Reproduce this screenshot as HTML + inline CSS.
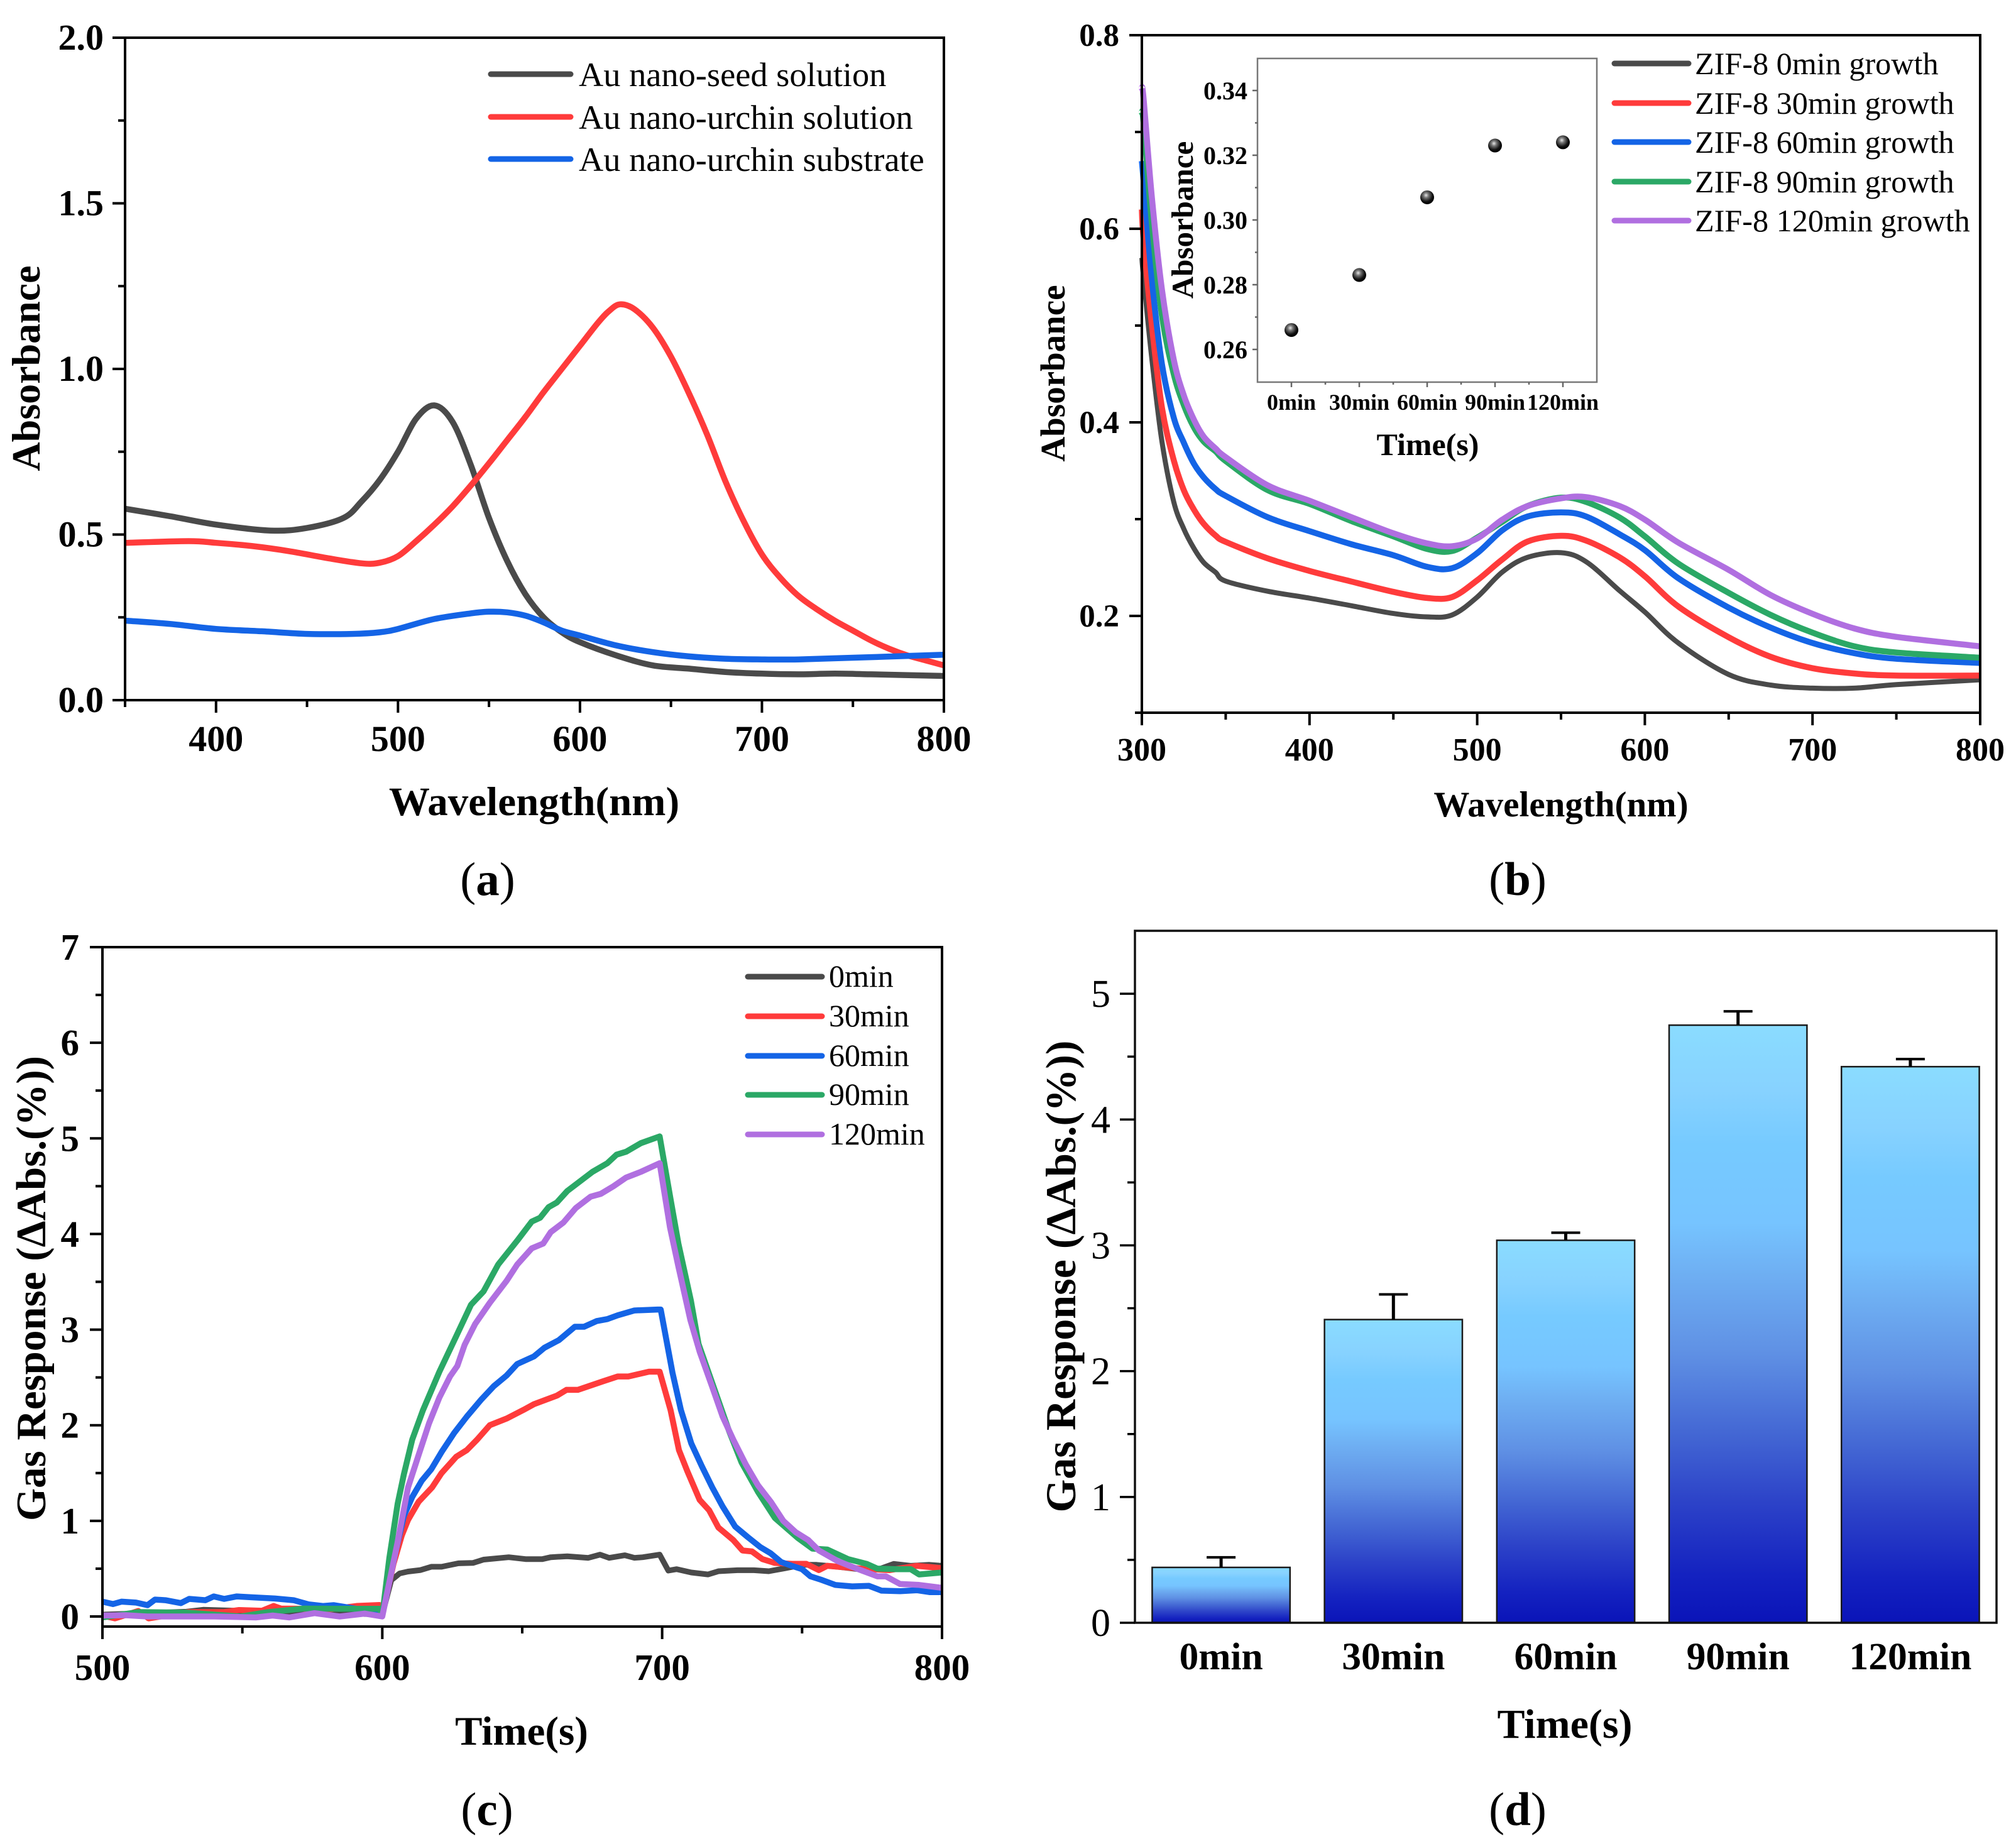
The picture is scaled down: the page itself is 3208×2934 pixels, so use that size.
<!DOCTYPE html>
<html lang="en">
<head>
<meta charset="utf-8">
<title>Absorbance and gas response figure</title>
<style>
html,body{margin:0;padding:0;background:#fff;width:3208px;height:2934px;overflow:hidden}
svg{display:block}
text{font-family:"Liberation Serif","DejaVu Serif",serif;fill:#000}
.b{font-weight:bold}
</style>
</head>
<body>
<svg id="figure" xmlns="http://www.w3.org/2000/svg" width="3208" height="2934" viewBox="0 0 3208 2934">
<defs>
<linearGradient id="barFill" x1="0" y1="0" x2="0" y2="1">
<stop offset="0" stop-color="#8adcff"/><stop offset="0.11" stop-color="#87d2ff"/><stop offset="0.2" stop-color="#76caff"/>
<stop offset="0.33" stop-color="#76c4ff"/><stop offset="0.42" stop-color="#6eaef2"/><stop offset="0.55" stop-color="#5f90e4"/>
<stop offset="0.68" stop-color="#4468d4"/><stop offset="0.8" stop-color="#2c42c8"/><stop offset="0.92" stop-color="#1422c0"/><stop offset="1" stop-color="#0a14b8"/>
</linearGradient>
<radialGradient id="ball" cx="0.42" cy="0.35" r="0.62">
<stop offset="0" stop-color="#e8e8e8"/><stop offset="0.3" stop-color="#777"/><stop offset="0.75" stop-color="#111"/><stop offset="1" stop-color="#000"/>
</radialGradient>
</defs>
<rect width="3208" height="2934" fill="#fff"/>

<g id="panelA">
<text class="b" font-size="64" text-anchor="middle" transform="translate(63,586) rotate(-90)">Absorbance</text>
<text class="b" font-size="65" text-anchor="middle" x="850" y="1297">Wavelength(nm)</text>
<text font-size="75" text-anchor="middle" x="776" y="1424">(<tspan class="b">a</tspan>)</text>
<g>
<line x1="781" x2="908" y1="118" y2="118" stroke="#4a4a4a" stroke-width="9" stroke-linecap="round"/>
<text font-size="54.4" x="921" y="137">Au nano-seed solution</text>
<line x1="781" x2="908" y1="186" y2="186" stroke="#ff3b3b" stroke-width="9" stroke-linecap="round"/>
<text font-size="54.4" x="921" y="205">Au nano-urchin solution</text>
<line x1="781" x2="908" y1="253" y2="253" stroke="#1464e6" stroke-width="9" stroke-linecap="round"/>
<text font-size="54.4" x="921" y="272">Au nano-urchin substrate</text>
</g>
</g>

<g id="panelB">
<text class="b" font-size="55" text-anchor="middle" transform="translate(1694,594) rotate(-90)">Absorbance</text>
<text class="b" font-size="57" text-anchor="middle" x="2484" y="1299">Wavelength(nm)</text>
<text font-size="75" text-anchor="middle" x="2415" y="1424">(<tspan class="b">b</tspan>)</text>
<g>
<line x1="2569" x2="2687" y1="101" y2="101" stroke="#4a4a4a" stroke-width="9" stroke-linecap="round"/>
<text font-size="50.2" x="2697" y="118">ZIF-8 0min growth</text>
<line x1="2569" x2="2687" y1="164" y2="164" stroke="#ff3b3b" stroke-width="9" stroke-linecap="round"/>
<text font-size="50.2" x="2697" y="181">ZIF-8 30min growth</text>
<line x1="2569" x2="2687" y1="226" y2="226" stroke="#1464e6" stroke-width="9" stroke-linecap="round"/>
<text font-size="50.2" x="2697" y="243">ZIF-8 60min growth</text>
<line x1="2569" x2="2687" y1="289" y2="289" stroke="#2ba866" stroke-width="9" stroke-linecap="round"/>
<text font-size="50.2" x="2697" y="306">ZIF-8 90min growth</text>
<line x1="2569" x2="2687" y1="351" y2="351" stroke="#b06fe0" stroke-width="9" stroke-linecap="round"/>
<text font-size="50.2" x="2697" y="368">ZIF-8 120min growth</text>
</g>
</g>

<g id="panelInset">
<text class="b" font-size="49" text-anchor="middle" transform="translate(1898,350) rotate(-90)">Absorbance</text>
<text class="b" font-size="50" text-anchor="middle" x="2272" y="724">Time(s)</text>
</g>

<g id="panelC">
<text class="b" font-size="67" text-anchor="middle" transform="translate(72,2050) rotate(-90)">Gas Response (ΔAbs.(%))</text>
<text class="b" font-size="65" text-anchor="middle" x="830" y="2776">Time(s)</text>
<text font-size="75" text-anchor="middle" x="775" y="2904">(<tspan class="b">c</tspan>)</text>
<g>
<line x1="1190" x2="1308" y1="1554" y2="1554" stroke="#4a4a4a" stroke-width="9" stroke-linecap="round"/>
<text font-size="50" x="1319" y="1570">0min</text>
<line x1="1190" x2="1308" y1="1617" y2="1617" stroke="#ff3b3b" stroke-width="9" stroke-linecap="round"/>
<text font-size="50" x="1319" y="1633">30min</text>
<line x1="1190" x2="1308" y1="1680" y2="1680" stroke="#1464e6" stroke-width="9" stroke-linecap="round"/>
<text font-size="50" x="1319" y="1696">60min</text>
<line x1="1190" x2="1308" y1="1742" y2="1742" stroke="#2ba866" stroke-width="9" stroke-linecap="round"/>
<text font-size="50" x="1319" y="1758">90min</text>
<line x1="1190" x2="1308" y1="1805" y2="1805" stroke="#b06fe0" stroke-width="9" stroke-linecap="round"/>
<text font-size="50" x="1319" y="1821">120min</text>
</g>
</g>

<g id="panelD">
<text class="b" font-size="68" text-anchor="middle" transform="translate(1711,2031) rotate(-90)">Gas Response (ΔAbs.(%))</text>
<text class="b" font-size="66" text-anchor="middle" x="2490" y="2765">Time(s)</text>
<text font-size="75" text-anchor="middle" x="2415" y="2904">(<tspan class="b">d</tspan>)</text>
</g>
</svg>

<script>
// ---------- Panel (a) data ----------
const aSeedX = [350,375,400,430,450,470,480,490,500,510,520,530,540,550,560,570,580,590,600,620,640,660,680,700,720,740,760,800];
const aSeedY = [.578,.555,.53,.512,.52,.55,.6,.665,.75,.85,.89,.84,.71,.55,.42,.32,.25,.205,.175,.135,.105,.095,.085,.08,.078,.08,.078,.073];
const aSolX = [350,385,400,420,440,460,480,490,500,510,520,530,540,550,560,570,580,590,600,610,616,622,630,640,650,660,670,680,690,700,710,720,730,740,750,760,770,780,790,800];
const aSolY = [.475,.48,.475,.465,.45,.43,.413,.415,.435,.48,.53,.585,.648,.715,.785,.855,.93,1.0,1.07,1.14,1.175,1.195,1.18,1.125,1.037,.925,.8,.66,.54,.44,.37,.315,.275,.24,.21,.18,.155,.135,.12,.105];
const aSubX = [350,375,400,425,450,475,490,500,520,540,550,560,570,580,590,600,620,640,660,680,700,720,750,800];
const aSubY = [.24,.23,.215,.208,.2,.2,.205,.215,.245,.262,.267,.265,.255,.235,.21,.195,.165,.145,.132,.125,.123,.123,.128,.137];
const aXTicks = [400,500,600,700,800];
const aXMinor = [350,450,550,650,750];
const aYTicks = ["0.0","0.5","1.0","1.5","2.0"];
const aYMinor = [.25,.75,1.25,1.75];

// ---------- Panel (b) data ----------
const bX = [300,301,306,312,319,325,331,337,344,350,375,400,425,450,470,485,500,515,530,550,565,585,600,620,650,675,700,725,750,800];
const bGray = [.57,.55,.465,.38,.318,.29,.27,.255,.245,.236,.2255,.2184,.2105,.2025,.199,.201,.2195,.2454,.2605,.2653,.256,.226,.204,.172,.1395,.1286,.1254,.1254,.129,.134];
const bRed = [.62,.59,.5,.415,.361,.33,.31,.295,.283,.2765,.2595,.2465,.2355,.2249,.2186,.2195,.2368,.2584,.2768,.2828,.2778,.2605,.241,.2097,.178,.1578,.146,.1405,.1384,.1384];
const bBlue = [.67,.65,.547,.46,.405,.379,.3575,.343,.331,.324,.302,.2876,.274,.2627,.2508,.2493,.2649,.2886,.3027,.307,.3027,.2843,.268,.2389,.2086,.188,.172,.1615,.1557,.1514];
const bGreen = [.72,.71,.605,.51,.45,.418,.395,.38,.37,.36,.33,.3157,.298,.2822,.2692,.267,.281,.2973,.3135,.3222,.3178,.3016,.2822,.254,.2238,.2011,.1827,.1686,.1622,.1568];
const bPurple = [.745,.735,.632,.537,.465,.428,.403,.385,.373,.364,.335,.319,.302,.2854,.275,.272,.28,.2995,.3135,.3215,.3228,.3135,.2995,.2757,.2476,.2216,.2022,.187,.1784,.1686];
const bXTicks = [300,400,500,600,700,800];
const bXMinor = [350,450,550,650,750];
const bYTicks = ["0.2","0.4","0.6","0.8"];
const bYMinor = [.1,.3,.5,.7];

// ---------- Inset data ----------
const insetCategories = ["0min","30min","60min","90min","120min"];
const insetValues = [.266,.283,.307,.323,.324];
const insetYTicks = ["0.26","0.28","0.30","0.32","0.34"];
const insetYMinor = [.27,.29,.31,.33];

// ---------- Panel (c) data ----------
const cGrayT = [500,530,536,560,580,600,603.2,606.2,609.2,613.7,617.5,621.2,627.2,632.4,636.2,645.2,651.2,657.2,660.2,666.1,673.6,677.8,681.1,686.7,690.1,693.1,699.1,702.2,705.2,710.4,716.4,720.1,726.9,732.8,738.1,744,750,755.2,762.7,770,777.5,782.8,788.8,795.5,800];
const cGrayV = [.02,.05,.07,.05,.04,.02,.38,.45,.47,.486,.52,.52,.556,.56,.595,.62,.6,.6,.62,.63,.613,.647,.613,.64,.613,.62,.647,.48,.495,.46,.44,.473,.484,.484,.473,.505,.54,.54,.52,.495,.495,.55,.53,.54,.53];
const cRedT = [500,504.5,512.8,516.5,530.8,543.5,548.8,557,561.2,563.8,572,576.6,590.8,599,600,604,607,609.2,613,617.8,621.2,626.4,630.2,633.9,638.4,644.4,650.4,654.2,662.4,665.8,669.9,678.9,684.1,687.9,695.3,699.1,703,706,709,713.4,716.8,720.1,725.4,728.7,732.1,735.8,740.3,746.3,751.5,756,759,764.9,773.9,781.3,791,800];
const cRedV = [.01,-.02,.057,-.02,.046,.046,.068,.06,.11,.083,.08,.057,.11,.12,.02,.55,.85,1.01,1.2,1.35,1.5,1.67,1.74,1.85,2,2.07,2.16,2.22,2.31,2.37,2.37,2.46,2.51,2.51,2.56,2.56,2.16,1.74,1.52,1.22,1.11,.93,.8,.69,.68,.6,.56,.55,.55,.485,.53,.515,.495,.485,.53,.505];
const cBlueT = [500,503.8,506.8,512,516.1,518.8,522.5,528,531,536.8,539.8,543.5,548,554,561.6,568.3,573.6,578.8,582.6,590.8,600,604,607.7,610.7,614.1,617.5,621.2,625.7,630.2,635.4,639.9,644.4,648.2,654.2,657.9,663.1,668.8,672.1,676.6,680.4,684.1,690.1,698.4,699.5,703.7,706.7,710.4,714.2,717.9,721.6,726.1,730.6,735.1,738.8,742.5,746.3,750,753,756.7,761.9,767.9,773.9,778.4,785,791,795.5,800];
const cBlueV = [.155,.13,.155,.145,.118,.177,.17,.14,.184,.17,.21,.184,.21,.2,.188,.17,.127,.11,.118,.08,.01,.58,1.05,1.25,1.42,1.54,1.72,1.92,2.09,2.27,2.41,2.52,2.64,2.72,2.81,2.89,3.03,3.03,3.09,3.11,3.15,3.2,3.21,3.21,2.55,2.16,1.81,1.57,1.35,1.15,.94,.83,.725,.66,.57,.53,.495,.42,.385,.33,.315,.32,.27,.265,.275,.255,.255];
const cGreenT = [500,512.8,530,549.5,559.3,572,585.6,599,600,602.5,605.5,607.7,610.7,614.5,620.4,626.4,631.7,636.2,641.4,648.2,653.4,656.4,659.4,662.4,666.1,675.1,680.4,683.7,687.1,692.4,699.1,702.8,705.8,710.3,713,723.9,728.4,734.3,740.3,748.5,753.7,759,766.4,773.1,776.9,783.6,788.8,791.8,800];
const cGreenV = [-.01,.046,.04,0,.046,.083,.08,.08,.01,.61,1.18,1.485,1.85,2.155,2.56,2.93,3.26,3.4,3.68,3.93,4.13,4.17,4.28,4.33,4.45,4.65,4.74,4.83,4.86,4.95,5.02,4.4,3.9,3.3,2.85,1.94,1.61,1.3,1.03,.82,.71,.7,.6,.55,.5,.495,.495,.44,.46];
const cPurpleT = [500,508.3,516,530.8,540,554.8,560.8,566.8,575.8,584.8,593.8,600,605.5,609.2,613,616.7,620.4,624.2,626.8,629.4,633.2,638.4,644.4,648.2,653.4,657.5,660.2,664.7,669.1,674.4,678.1,682.6,687.1,692.4,699.1,702.8,705.8,710.1,713.4,717.9,721.6,725.4,729.9,734.3,738.8,743.3,747.8,752.2,756,762.7,770,776.9,779.9,785,791.8,800];
const cPurpleV = [.01,.013,.0,0,0,-.01,.01,-.01,.035,0,.03,0,.78,1.35,1.69,2.02,2.29,2.51,2.62,2.84,3.06,3.28,3.51,3.68,3.85,3.9,4.02,4.12,4.27,4.39,4.42,4.5,4.59,4.65,4.74,4.07,3.66,3.1,2.77,2.4,2.09,1.85,1.59,1.37,1.2,1,.88,.8,.69,.58,.495,.42,.42,.34,.33,.3];
const cXTicks = [500,600,700,800];
const cXMinor = [550,650,750];
const cYTicks = ["0","1","2","3","4","5","6","7"];
const cYMinor = [.5,1.5,2.5,3.5,4.5,5.5,6.5];

// ---------- Panel (d) data ----------
const dCategories = ["0min","30min","60min","90min","120min"];
const dValues = [.44,2.41,3.04,4.75,4.42];
const dErrorTops = [.52,2.61,3.10,4.86,4.48];
const dYTicks = ["0","1","2","3","4","5"];
const dYMinor = [.5,1.5,2.5,3.5,4.5];

// ---------- helpers ----------
const NS = 'http://www.w3.org/2000/svg';
function mk(tag, attrs, parent){
  const el = document.createElementNS(NS, tag);
  for (const k in attrs) el.setAttribute(k, attrs[k]);
  parent.appendChild(el);
  return el;
}
function linear(d0, d1, r0, r1){ return v => r0 + (v - d0) / (d1 - d0) * (r1 - r0); }
function smoothPath(px){
  let d = 'M' + px[0][0].toFixed(1) + ' ' + px[0][1].toFixed(1);
  for (let i = 0; i < px.length - 1; i++){
    const p0 = px[Math.max(i-1,0)], p1 = px[i], p2 = px[i+1], p3 = px[Math.min(i+2,px.length-1)];
    const c1x = p1[0] + (p2[0]-p0[0]) / 6, c1y = p1[1] + (p2[1]-p0[1]) / 6;
    const c2x = p2[0] - (p3[0]-p1[0]) / 6, c2y = p2[1] - (p3[1]-p1[1]) / 6;
    d += 'C' + c1x.toFixed(1) + ' ' + c1y.toFixed(1) + ' ' + c2x.toFixed(1) + ' ' + c2y.toFixed(1) + ' ' + p2[0].toFixed(1) + ' ' + p2[1].toFixed(1);
  }
  return d;
}
function polyPath(px){
  return px.map((p,i) => (i ? 'L' : 'M') + p[0].toFixed(1) + ' ' + p[1].toFixed(1)).join('');
}
function drawCurve(parent, name, xs, ys, sx, sy, color, width, smooth){
  const px = xs.map((x,i) => [sx(x), sy(ys[i])]);
  const path = mk('path', {d: smooth ? smoothPath(px) : polyPath(px), fill:'none', stroke:color, 'stroke-width':width, 'stroke-linejoin':'round', 'stroke-linecap':'butt'}, parent);
  
  
}
function drawFrame(parent, name, x0, x1, y0, y1, color, width){
  const r = mk('rect', {x:x0, y:y1, width:x1-x0, height:y0-y1, fill:'none', stroke:color, 'stroke-width':width}, parent);
  
  
}
function xTick(parent, x, y, len, color, width){
  const l = mk('line', {x1:x, x2:x, y1:y, y2:y+len, stroke:color, 'stroke-width':width}, parent);
  
  
}
function yTick(parent, x, y, len, color, width){
  const l = mk('line', {x1:x-len, x2:x, y1:y, y2:y, stroke:color, 'stroke-width':width}, parent);
  
  
}
function label(parent, name, str, x, y, size, anchor, bold){
  const t = mk('text', {x:x, y:y, 'font-size':size, 'text-anchor':anchor}, parent);
  if (bold) t.setAttribute('class', 'b');
  t.textContent = str;
  
  
}

// ---------- Panel (a) ----------
(function(){
  const g = document.getElementById('panelA');
  const sx = linear(350, 800, 199, 1502), sy = linear(0, 2, 1114, 60);
  drawCurve(g, 'curve-au-nano-seed', aSeedX, aSeedY, sx, sy, '#4a4a4a', 9.5, true);
  drawCurve(g, 'curve-au-nano-urchin-solution', aSolX, aSolY, sx, sy, '#ff3b3b', 9.5, true);
  drawCurve(g, 'curve-au-nano-urchin-substrate', aSubX, aSubY, sx, sy, '#1464e6', 9.5, true);
  drawFrame(g, 'panel-a-frame', 199, 1502, 1114, 60, '#000', 4);
  aXTicks.forEach(v => { xTick(g, sx(v), 1114, 20, '#000', 4); label(g, 'x-tick-label', String(v), sx(v), 1195, 58, 'middle', true); });
  aXMinor.forEach(v => xTick(g, sx(v), 1114, 11, '#000', 4));
  aYTicks.forEach(s => { yTick(g, 199, sy(+s), 20, '#000', 4); label(g, 'y-tick-label', s, 165, sy(+s)+19, 58, 'end', true); });
  aYMinor.forEach(v => yTick(g, 199, sy(v), 11, '#000', 4));
})();

// ---------- Panel (b) ----------
(function(){
  const g = document.getElementById('panelB');
  const sx = linear(300, 800, 1817, 3151), sy = linear(.2, .8, 980, 56);
  drawCurve(g, 'curve-zif-0min', bX, bGray, sx, sy, '#4a4a4a', 8, true);
  drawCurve(g, 'curve-zif-30min', bX, bRed, sx, sy, '#ff3b3b', 9.5, true);
  drawCurve(g, 'curve-zif-60min', bX, bBlue, sx, sy, '#1464e6', 9.5, true);
  drawCurve(g, 'curve-zif-90min', bX, bGreen, sx, sy, '#2ba866', 9.5, true);
  drawCurve(g, 'curve-zif-120min', bX, bPurple, sx, sy, '#b06fe0', 9.5, true);
  drawFrame(g, 'panel-b-frame', 1817, 3151, sy(.1), 56, '#000', 4);
  bXTicks.forEach(v => { xTick(g, sx(v), sy(.1), 20, '#000', 4); label(g, 'x-tick-label', String(v), sx(v), 1210, 52, 'middle', true); });
  bXMinor.forEach(v => xTick(g, sx(v), sy(.1), 11, '#000', 4));
  bYTicks.forEach(s => { yTick(g, 1817, sy(+s), 20, '#000', 4); label(g, 'y-tick-label', s, 1781, sy(+s)+17, 51, 'end', true); });
  bYMinor.forEach(v => yTick(g, 1817, sy(v), 11, '#000', 4));
})();

// ---------- Inset ----------
(function(){
  const g = document.getElementById('panelInset');
  const sx = linear(0, 4, 2055, 2487), sy = linear(.26, .34, 556, 144);
  drawFrame(g, 'inset-frame', 2001, 2541, 608, 93, '#777', 2.5);
  insetCategories.forEach((c,i) => {
    xTick(g, sx(i), 608, 8, '#666', 2.5);
    label(g, 'inset-x-tick-label', c, sx(i), 652, 36, 'middle', true);
    if (i < insetCategories.length - 1) xTick(g, sx(i+.5), 608, 4, '#666', 2.5);
  });
  insetYTicks.forEach(s => { yTick(g, 2001, sy(+s), 8, '#666', 2.5); label(g, 'inset-y-tick-label', s, 1985, sy(+s)+14, 40, 'end', true); });
  insetYMinor.forEach(v => yTick(g, 2001, sy(v), 4, '#666', 2.5));
  insetValues.forEach((v,i) => {
    const c = mk('circle', {cx:sx(i), cy:sy(v), r:11, fill:'url(#ball)'}, g);
    
    
  });
})();

// ---------- Panel (c) ----------
(function(){
  const g = document.getElementById('panelC');
  const sx = linear(500, 800, 163, 1499), sy = linear(0, 7, 2572, 1507);
  const clip = mk('clipPath', {id:'cClip'}, g);
  mk('rect', {x:163, y:1507, width:1336, height:1081}, clip);
  const s = mk('g', {'clip-path':'url(#cClip)'}, g);
  
  
  drawCurve(s, 'curve-0min', cGrayT, cGrayV, sx, sy, '#4a4a4a', 9, false);
  drawCurve(s, 'curve-30min', cRedT, cRedV, sx, sy, '#ff3b3b', 9.5, false);
  drawCurve(s, 'curve-60min', cBlueT, cBlueV, sx, sy, '#1464e6', 9.5, false);
  drawCurve(s, 'curve-90min', cGreenT, cGreenV, sx, sy, '#2ba866', 9.5, false);
  drawCurve(s, 'curve-120min', cPurpleT, cPurpleV, sx, sy, '#b06fe0', 9.5, false);
  drawFrame(g, 'panel-c-frame', 163, 1499, 2588, 1507, '#000', 4);
  cXTicks.forEach(v => { xTick(g, sx(v), 2588, 20, '#000', 4); label(g, 'x-tick-label', String(v), sx(v), 2673, 59, 'middle', true); });
  cXMinor.forEach(v => xTick(g, sx(v), 2588, 11, '#000', 4));
  cYTicks.forEach(t => { yTick(g, 163, sy(+t), 20, '#000', 4); label(g, 'y-tick-label', t, 126, sy(+t)+20, 59, 'end', true); });
  cYMinor.forEach(v => yTick(g, 163, sy(v), 11, '#000', 4));
})();

// ---------- Panel (d) ----------
(function(){
  const g = document.getElementById('panelD');
  const x0 = 1806, x1 = 3177, band = (x1 - x0) / dCategories.length, barW = band * .8;
  const sy = linear(0, 5.5, 2582, 1481);
  const cx = i => x0 + band * (i + .5);
  dCategories.forEach((c,i) => {
    const bar = mk('rect', {x:cx(i)-barW/2, y:sy(dValues[i]), width:barW, height:sy(0)-sy(dValues[i]), fill:'url(#barFill)', stroke:'#1a1a1a', 'stroke-width':2.5}, g);
    
    
    const stem = mk('line', {x1:cx(i), x2:cx(i), y1:sy(dValues[i]), y2:sy(dErrorTops[i]), stroke:'#000', 'stroke-width':5}, g);
    
    
    const cap = mk('line', {x1:cx(i)-23, x2:cx(i)+23, y1:sy(dErrorTops[i]), y2:sy(dErrorTops[i]), stroke:'#000', 'stroke-width':4}, g);
    
    
    label(g, 'x-tick-label', c, cx(i), 2656, 61.5, 'middle', true);
  });
  drawFrame(g, 'panel-d-frame', x0, x1, 2582, 1481, '#111', 3.5);
  dYTicks.forEach(t => { yTick(g, x0, sy(+t), 24, '#000', 3.5); label(g, 'y-tick-label', t, 1767, sy(+t)+21, 62, 'end', false); });
  dYMinor.forEach(v => yTick(g, x0, sy(v), 12, '#000', 3.5));
})();
</script>
</body>
</html>
